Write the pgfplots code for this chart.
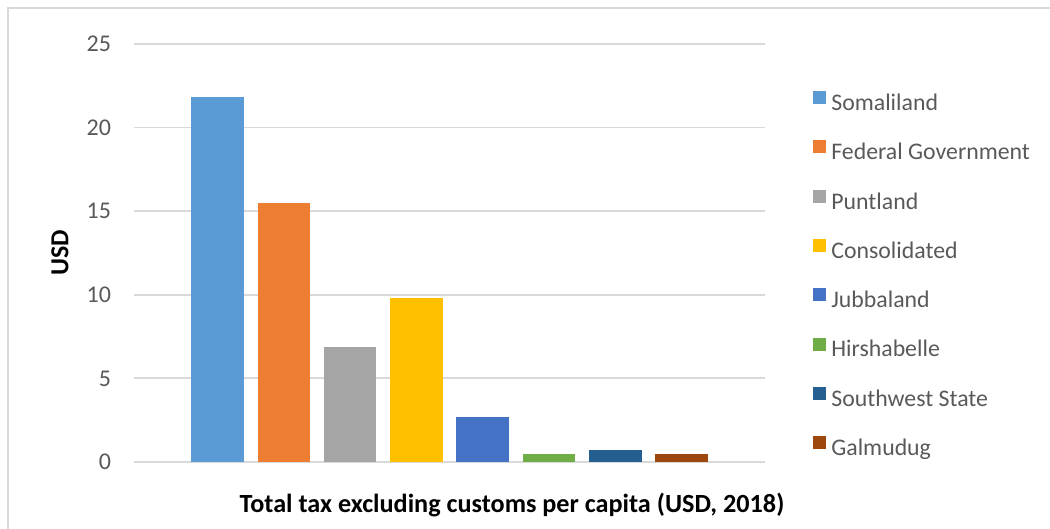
\documentclass[border=0pt]{standalone}
\usepackage{pgfplots}
\pgfplotsset{compat=1.18}
\usepackage{fontspec}
\setmainfont{Carlito}
\definecolor{c1}{HTML}{5B9BD5}
\definecolor{c2}{HTML}{ED7D31}
\definecolor{c3}{HTML}{A5A5A5}
\definecolor{c4}{HTML}{FFC000}
\definecolor{c5}{HTML}{4472C4}
\definecolor{c6}{HTML}{70AD47}
\definecolor{c7}{HTML}{255E91}
\definecolor{c8}{HTML}{9E480E}
\definecolor{txtgray}{HTML}{595959}
\definecolor{gridgray}{HTML}{D9D9D9}
\begin{document}
\begin{tikzpicture}[x=1pt,y=1pt]
\useasboundingbox (0,0) rectangle (525,264.5);
\draw[color=gridgray, line width=1.2pt] (4,0) -- (4,260.5) -- (525,260.5);
\begin{axis}[
  at={(67pt,33.5pt)}, anchor=south west,
  scale only axis, width=315.5pt, height=209pt,
  xmin=-1.259, xmax=8.259, ymin=0, ymax=25,
  ytick={0,5,10,15,20,25}, xtick=\empty,
  ymajorgrids, grid style={color=gridgray, line width=0.9pt},
  axis line style={draw=none},
  major tick length=0pt,
  ybar, bar width=26.25pt, bar shift=0pt,
  /pgf/number format/assume math mode=true,
  yticklabel style={font=\fontsize{12}{14}\selectfont, text=txtgray, xshift=-8pt},
  ylabel={\textbf{USD}},
  ylabel style={font=\fontsize{13}{15}\selectfont, at={(rel axis cs:-0.1173,0.5)}, anchor=center, rotate=0},
  xlabel={\textbf{Total tax excluding customs per capita (USD, 2018)}},
  xlabel style={font=\fontsize{13.1}{15}\selectfont, at={(rel axis cs:0.599,-0.1029)}, anchor=center},
  legend style={at={(rel axis cs:1.076,0.4455)}, anchor=west, draw=none, fill=none,
    font=\fontsize{11.9}{14}\selectfont, text=txtgray, row sep=12.45pt, inner sep=0pt,
    nodes={inner sep=0pt, text height=8pt, text depth=2.5pt},
    /tikz/every odd column/.append style={column sep=2.5pt}},
  legend cell align=left,
  legend image code/.code={\fill[#1] (0pt,0.45pt) rectangle (6.5pt,6.95pt);},
]
\addplot[fill=c1, draw=none] coordinates {(0,21.8)}; \addlegendentry{Somaliland}
\addplot[fill=c2, draw=none] coordinates {(1,15.5)}; \addlegendentry{Federal Government}
\addplot[fill=c3, draw=none] coordinates {(2,6.9)}; \addlegendentry{Puntland}
\addplot[fill=c4, draw=none] coordinates {(3,9.8)}; \addlegendentry{Consolidated}
\addplot[fill=c5, draw=none] coordinates {(4,2.7)}; \addlegendentry{Jubbaland}
\addplot[fill=c6, draw=none] coordinates {(5,0.5)}; \addlegendentry{Hirshabelle}
\addplot[fill=c7, draw=none] coordinates {(6,0.7)}; \addlegendentry{Southwest State}
\addplot[fill=c8, draw=none] coordinates {(7,0.45)}; \addlegendentry{Galmudug}
\end{axis}
\end{tikzpicture}
\end{document}
